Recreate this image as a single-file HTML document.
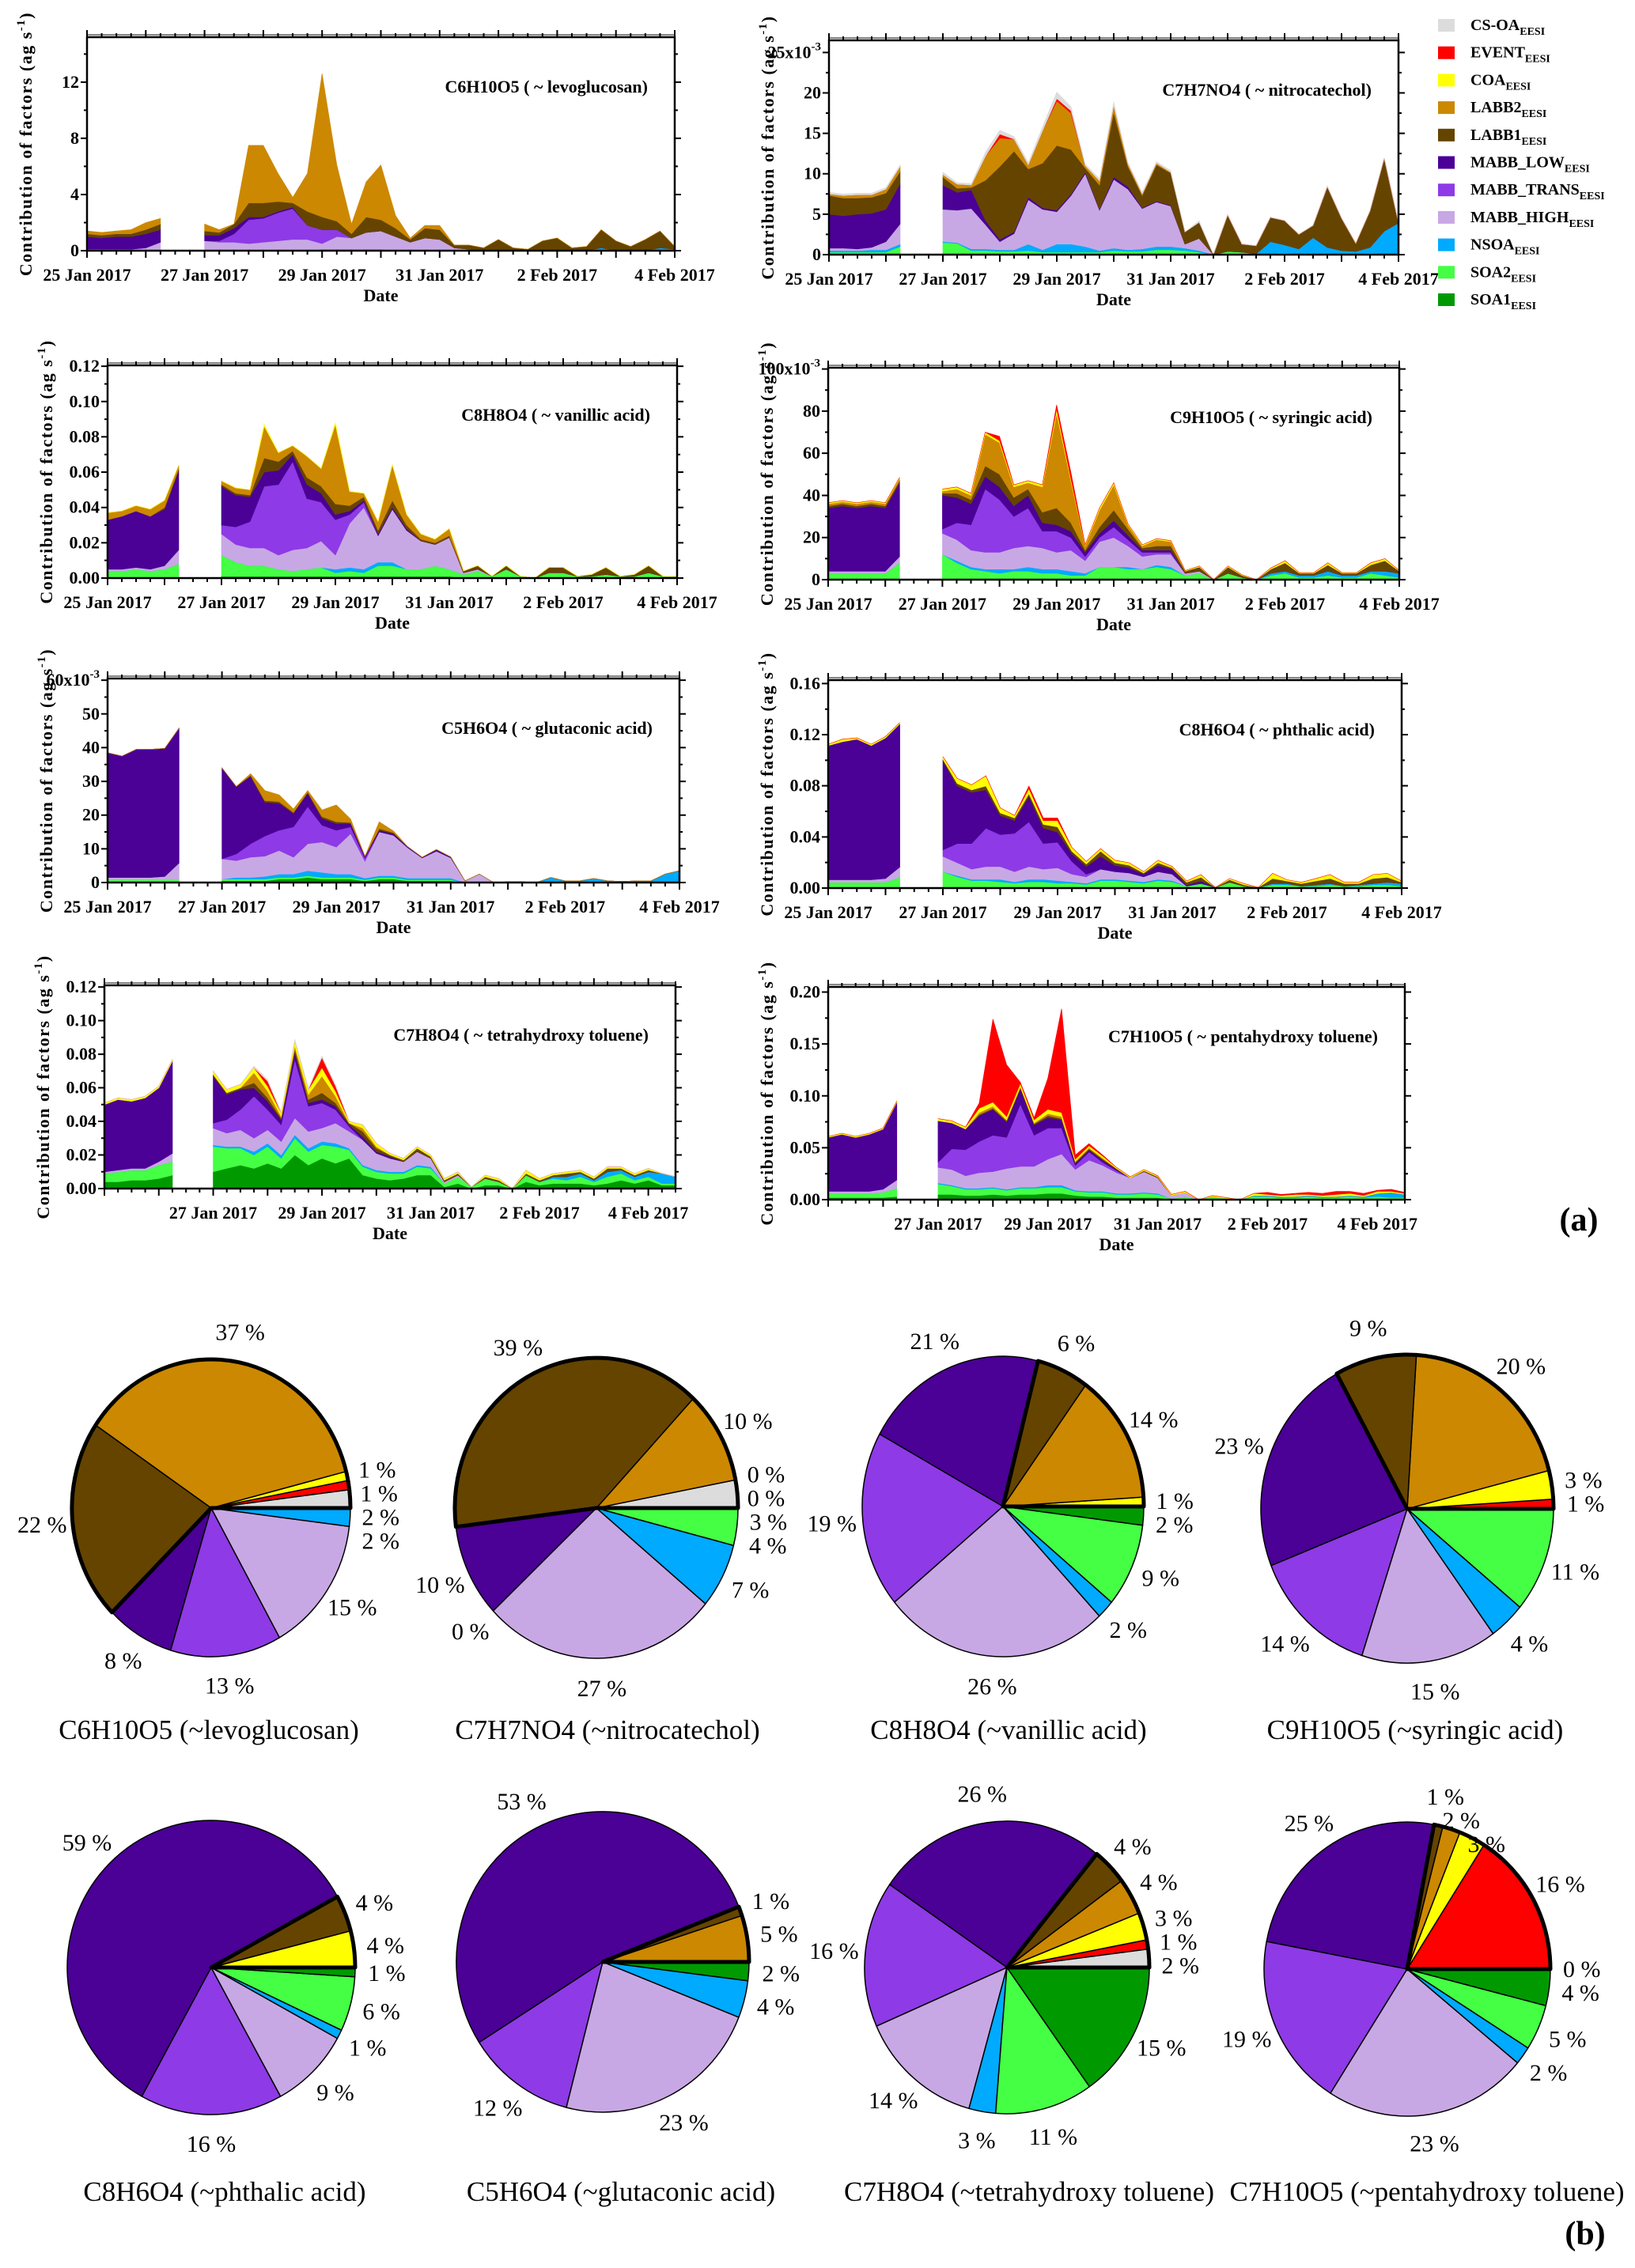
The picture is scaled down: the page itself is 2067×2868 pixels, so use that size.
<!DOCTYPE html>
<html><head><meta charset="utf-8"><title>EESI factor contributions</title>
<style>
html,body{margin:0;padding:0;background:#fff;}
svg{display:block;font-family:"Liberation Serif","Times New Roman",serif;}
text,tspan{font-family:"Liberation Serif","Times New Roman",serif;}
.tk{font-weight:bold;font-size:22px;}
</style></head>
<body>
<svg id="fig" width="2067" height="2868" viewBox="0 0 2067 2868">
<rect x="0" y="0" width="2067" height="2868" fill="#fff"/>
<text x="1996" y="1556" font-size="42" font-weight="bold" text-anchor="middle">(a)</text>
<text x="2004" y="2838" font-size="42" font-weight="bold" text-anchor="middle">(b)</text>
</svg>
<script>
const A_NSOA=[0,0,0,0,0,0,null,null,0,0,0,0,0,0,0,0,0.1,0.1,0.1,0.1,0.1,0,0,0,0,0,0,0,0,0,0,0,0,0,0,0.2,0,0,0,0.2,0.1];
const A_HIGH=[0.1,0.1,0.1,0.1,0.2,0.6,null,null,0.7,0.6,0.6,0.5,0.6,0.7,0.8,0.8,0.4,0.9,0.8,1.2,1.3,1.0,0.6,0.9,0.8,0.2,0.1,0,0,0,0,0,0,0,0,0,0,0,0,0,0];
const A_TRANS=[0,0,0,0,0,0,null,null,0,0.1,0.6,1.7,1.7,2.0,2.2,1.0,1.0,0.5,0,0,0,0,0,0,0,0,0,0,0,0,0,0,0,0,0,0,0,0,0,0,0];
const A_LOW=[0.9,0.8,0.9,0.9,1.0,0.9,null,null,0.4,0.4,0.4,0.2,0.1,0.1,0.1,0,0,0,0,0,0,0,0,0,0,0,0,0,0,0,0,0,0,0,0,0,0,0,0,0,0];
const A_LABB1=[0.2,0.2,0.2,0.2,0.3,0.4,null,null,0.3,0.2,0.3,1.0,1.0,0.7,0.3,1.0,0.9,0.6,0.3,1.1,0.8,0.6,0.2,0.7,0.7,0.2,0.3,0.2,0.8,0.2,0.1,0.7,0.9,0.2,0.3,1.3,0.7,0.3,0.8,1.2,0.2];
const A_LABB2=[0.2,0.2,0.2,0.3,0.5,0.4,null,null,0.5,0.2,0,4.1,4.1,2.0,0.4,2.7,10.2,4.0,0.7,2.5,3.9,0.9,0.1,0.2,0.3,0,0,0,0,0,0,0,0,0,0,0,0,0,0,0,0];

const B_SOA2=[0.3,0.3,0.3,0.3,0.3,1.0,null,null,1.5,1.4,0.5,0.5,0.4,0.4,0.5,0.3,0.3,0.3,0.3,0.3,0.5,0.4,0.4,0.6,0.6,0.5,0.3,0,0.4,0.3,0.1,0.1,0.2,0.1,0.1,0.1,0.1,0.1,0.2,0.1,0.1];
const B_NSOA=[0.2,0.2,0.2,0.3,0.3,0.3,null,null,0.1,0.1,0.2,0.2,0.2,0.2,0.8,0.3,1.0,1.0,0.7,0.2,0.3,0.2,0.3,0.4,0.4,0.3,0.2,0,0,0,0,1.5,1.0,0.6,2.0,0.8,0.4,0.3,0.7,2.8,3.8];
const B_HIGH=[0.3,0.3,0.2,0.3,1.0,2.5,null,null,4.0,4.0,5.0,3.0,1.0,2.0,5.5,5.0,4.0,6.0,9.0,5.0,8.5,7.5,5.0,5.5,5.0,0.5,1.5,0,0,0,0,0,0,0,0,0,0,0,0,0,0];
const B_LOW=[4.2,4.0,4.3,4.2,4.0,5.0,null,null,3.0,2.2,2.3,0.5,0.3,0.2,0.3,0.2,0.2,0.2,0.2,0.1,0.3,0.3,0.1,0.1,0.1,0,0,0,0,0,0,0,0,0,0,0,0,0,0,0,0];
const B_LABB1=[2.3,2.2,2.0,2.0,2.0,1.5,null,null,1.0,0.5,0.3,5.0,9.0,10.0,3.5,5.5,8.0,5.5,0.5,3.0,8.0,2.5,1.5,4.5,4.0,1.5,2.0,0,4.5,1.0,1.0,3.0,3.0,1.8,1.5,7.5,4.0,1.0,4.5,9.0,0];
const B_LABB2=[0.2,0.3,0.4,0.3,0.5,0.6,null,null,0.3,0.5,0.3,3.0,3.5,1.5,0.5,4.0,5.5,4.5,0.3,0.5,0.8,0.3,0.2,0.2,0.1,0,0,0,0,0,0,0,0,0,0,0,0,0,0,0,0];
const B_EV=[0,0,0,0,0,0,null,null,0,0,0,0,0.5,0,0,0,0.3,0.3,0,0,0,0,0,0,0,0,0,0,0,0,0,0,0,0,0,0,0,0,0,0,0];
const B_CS=[0.2,0.2,0.2,0.2,0.2,0.2,null,null,0.3,0.2,0.2,0.5,0.5,0.3,0.3,0.5,0.8,0.5,0.2,0.3,0.5,0.2,0.2,0.2,0.2,0,0.2,0,0,0,0,0,0,0,0,0,0,0,0,0,0];

const C_SOA1=[0,0,0,0,0,0,null,null,0.001,0.001,0.001,0.001,0.001,0.001,0.001,0.001,0.001,0.001,0.001,0.001,0.001,0.001,0.001,0.001,0.001,0,0,0,0,0,0,0,0,0,0,0,0,0,0,0,0];
const C_SOA2=[0.004,0.004,0.005,0.004,0.005,0.008,null,null,0.012,0.008,0.006,0.006,0.004,0.003,0.004,0.005,0.002,0.003,0.002,0.006,0.006,0.004,0.004,0.006,0.004,0.002,0.004,0.001,0.005,0.001,0,0.003,0.003,0.001,0.001,0.002,0.001,0.001,0.003,0.001,0.001];
const C_NSOA=[0,0,0,0,0,0,null,null,0,0,0,0,0,0,0,0,0.002,0.002,0.002,0.002,0.002,0,0,0,0,0,0,0,0,0,0,0,0,0,0,0,0,0,0,0,0];
const C_HIGH=[0.001,0.001,0.001,0.001,0.002,0.008,null,null,0.012,0.010,0.010,0.010,0.008,0.012,0.012,0.015,0.008,0.025,0.035,0.015,0.030,0.022,0.016,0.012,0.018,0.001,0.001,0,0,0,0,0,0,0,0,0,0,0,0,0,0];
const C_TRANS=[0,0,0,0,0,0,null,null,0.005,0.010,0.015,0.035,0.040,0.050,0.028,0.022,0.020,0.005,0.003,0,0,0,0,0,0,0,0,0,0,0,0,0,0,0,0,0,0,0,0,0,0];
const C_LOW=[0.028,0.030,0.032,0.030,0.032,0.045,null,null,0.022,0.018,0.014,0.008,0.008,0.004,0.008,0.005,0.003,0.002,0.001,0.001,0.001,0.001,0,0,0,0,0,0,0,0,0,0,0,0,0,0,0,0,0,0,0];
const C_LABB1=[0,0,0,0,0.001,0.001,null,null,0.001,0.001,0.001,0.008,0.005,0.002,0.004,0.004,0.006,0.003,0.002,0.002,0.004,0.002,0.001,0.001,0.001,0.001,0.002,0,0.002,0,0,0.003,0.003,0,0.001,0.004,0,0.001,0.004,0,0];
const C_LABB2=[0.004,0.003,0.003,0.004,0.004,0.002,null,null,0.002,0.003,0.003,0.018,0.005,0.003,0.012,0.010,0.045,0.008,0.002,0.005,0.020,0.006,0.003,0.002,0.004,0,0,0,0,0,0,0,0,0,0,0,0,0,0,0,0];
const C_COA=[0,0,0,0,0,0,null,null,0,0,0,0.001,0,0,0,0,0.001,0,0,0,0,0,0,0,0,0,0,0,0,0,0,0,0,0,0,0,0,0,0,0,0];

const D_SOA2=[3,3,3,3,3,8,null,null,12,8,5,4,3,4,4,3,3,2,2,6,6,5,5,6,5,2,3,0,3,1,0,2,3,1,1,2,1,1,3,2,1];
const D_NSOA=[0,0,0,0,0,0,null,null,0,1,1,1,2,1,2,2,2,2,1,0,0,1,0,1,1,0,0,0,0,0,0,1,1,1,1,2,1,1,1,2,2];
const D_HIGH=[1,1,1,1,1,3,null,null,10,10,8,8,8,10,10,10,8,10,6,12,14,10,6,5,6,1,1,0,0,0,0,0,0,0,0,0,0,0,0,0,0];
const D_TRANS=[0,0,0,0,0,0,null,null,2,8,12,30,25,15,18,8,10,6,2,2,5,3,2,1,1,0,0,0,0,0,0,0,0,0,0,0,0,0,0,0,0];
const D_LOW=[30,31,30,31,30,35,null,null,16,12,10,6,6,5,6,4,3,3,2,2,3,2,1,1,1,0,0,0,0,0,0,0,0,0,0,0,0,0,0,0,0];
const D_LABB1=[1,1,1,1,1,1,null,null,1,2,2,5,6,4,3,5,8,4,1,3,5,3,1,2,2,1,2,0,3,1,0,2,4,1,1,3,1,1,3,5,1];
const D_LABB2=[1,1,1,1,1,1,null,null,1,2,2,15,15,5,3,12,45,20,2,8,12,2,1,3,2,0,0,0,0,0,0,0,0,0,0,0,0,0,0,0,0];
const D_COA=[0.5,0.5,0.5,0.5,0.5,0.5,null,null,1,1,1,1,1,1,1,1,2,1,0.5,1,1,0.5,0.5,0.5,0.5,0.3,0.5,0,0.5,0.3,0,0.5,1,0.3,0.3,1,0.3,0.3,1,1,0.3];
const D_EV=[0,0,0,0,0,0,null,null,0,0,0,0,2,0,0,0,2,3,0,0,0,0,0,0,0,0,0,0,0,0,0,0,0,0,0,0,0,0,0,0,0];

const E_SOA1=[0.3,0.3,0.3,0.3,0.3,0.3,null,null,0.5,0.5,0.5,0.5,1,1,1.5,1,1,1,0.5,1,1,0.5,0.5,0.5,0.5,0,0,0,0,0,0,0,0,0,0,0,0,0,0,0,0];
const E_SOA2=[0.5,0.5,0.5,0.5,0.5,0.5,null,null,0.5,0.5,0.5,0.5,0.5,0.5,0.5,0.5,0.5,0.5,0.3,0.5,0.5,0.3,0.3,0.3,0.3,0,0,0,0,0,0,0,0,0,0,0,0,0,0,0,0];
const E_NSOA=[0,0,0,0,0,0,null,null,0,0.5,0.5,0.8,1,1,1.5,1.5,1,1,0.5,0.5,0.5,0.5,0.5,0.5,0.5,0,0,0,0.2,0.2,0,1.5,0.5,0.5,1.2,0.5,0.3,0.5,0.5,2.5,3.5];
const E_HIGH=[0.7,0.7,0.7,0.7,1,5,null,null,6,5,6,6,7,5,8,9,8,12,5,13,12,9,6,8,6,0.5,2.5,0,0,0,0,0,0,0,0,0,0,0,0,0,0];
const E_TRANS=[0,0,0,0,0,0,null,null,0,2,4,6,6,9,11,5,5,2,1,0,0,0,0,0,0,0,0,0,0,0,0,0,0,0,0,0,0,0,0,0,0];
const E_LOW=[37,36,38,38,38,40,null,null,27,20,20,10,8,4,4,2,2,1,0.5,0.5,0.5,0.3,0.2,0.5,0.3,0,0,0,0,0,0,0,0,0,0,0,0,0,0,0,0];
const E_LABB1=[0,0,0,0,0,0,null,null,0,0,0.3,0.5,0.5,0.3,0.3,0.5,0.5,0.3,0,0.5,0.3,0,0,0,0,0,0,0,0,0,0,0,0,0,0,0,0,0,0,0,0];
const E_LABB2=[0,0,0,0,0,0,null,null,0,0,0.5,3,2,1,0.5,2,5,1,0,2,0.5,0,0,0,0,0,0,0,0,0,0,0,0,0,0,0,0,0,0,0,0];

const F_SOA1=[0.0005,0.0005,0.0005,0.0005,0.0005,0.0005,null,null,0.0008,0.0008,0.0008,0.0008,0.0008,0.0008,0.0008,0.0008,0.0008,0.0008,0.0008,0.0008,0.0008,0.0008,0.0008,0.0008,0.0008,0.0005,0.0005,0.0005,0.0005,0.0005,0.0005,0.0005,0.0005,0.0005,0.0005,0.0005,0.0005,0.0005,0.0005,0.0005,0.0005];
const F_SOA2=[0.004,0.004,0.004,0.004,0.004,0.008,null,null,0.012,0.008,0.005,0.005,0.004,0.003,0.004,0.004,0.003,0.003,0.002,0.005,0.005,0.004,0.003,0.005,0.004,0.001,0.003,0,0.004,0.001,0,0.002,0.002,0.001,0.001,0.002,0.001,0.001,0.002,0.002,0.001];
const F_NSOA=[0,0,0,0,0,0,null,null,0,0.001,0.001,0.001,0.002,0.001,0.002,0.002,0.002,0.001,0.001,0.001,0.001,0.001,0.001,0.001,0.001,0,0,0,0,0,0,0.001,0.001,0,0.001,0.001,0,0.001,0.001,0.002,0.002];
const F_HIGH=[0.002,0.002,0.002,0.002,0.003,0.008,null,null,0.012,0.010,0.008,0.010,0.010,0.008,0.010,0.008,0.010,0.006,0.005,0.008,0.006,0.006,0.004,0.006,0.005,0,0,0,0,0,0,0,0,0,0,0,0,0,0,0,0];
const F_TRANS=[0,0,0,0,0,0,null,null,0.005,0.015,0.020,0.030,0.025,0.030,0.035,0.020,0.020,0.010,0.002,0,0,0,0,0,0,0,0,0,0,0,0,0,0,0,0,0,0,0,0,0,0];
const F_LOW=[0.105,0.108,0.110,0.105,0.110,0.112,null,null,0.070,0.045,0.040,0.030,0.015,0.010,0.020,0.012,0.008,0.006,0.006,0.010,0.005,0.004,0.002,0.005,0.004,0.001,0.002,0,0,0,0,0,0,0,0,0,0,0,0,0,0];
const F_LABB1=[0,0,0,0,0,0,null,null,0.001,0.002,0.002,0.003,0.002,0.002,0.002,0.003,0.004,0.002,0.002,0.004,0.002,0.002,0.001,0.002,0.001,0.002,0.003,0,0.002,0.001,0,0.004,0.002,0.002,0.003,0.004,0.002,0.001,0.004,0.004,0.001];
const F_COA=[0.001,0.002,0.001,0.001,0.001,0.001,null,null,0.002,0.004,0.004,0.008,0.004,0.002,0.004,0.003,0.005,0.003,0.002,0.002,0.002,0.002,0.001,0.002,0.001,0.001,0.002,0,0.001,0.001,0,0.004,0.001,0.001,0.002,0.003,0.001,0.001,0.003,0.003,0.001];
const F_EV=[0,0,0,0,0,0,null,null,0,0,0,0,0,0,0.002,0.002,0.002,0,0,0,0,0,0,0,0,0,0,0,0,0,0,0,0,0,0,0,0,0,0,0,0];

const G_SOA1=[0.004,0.004,0.005,0.005,0.006,0.008,null,null,0.010,0.012,0.014,0.012,0.015,0.012,0.020,0.014,0.018,0.015,0.018,0.008,0.006,0.005,0.006,0.008,0.008,0.001,0.003,0,0.002,0.002,0,0.004,0.002,0.003,0.003,0.003,0.002,0.003,0.005,0.003,0.005,0.002,0.002];
const G_SOA2=[0.005,0.006,0.006,0.006,0.008,0.008,null,null,0.015,0.012,0.010,0.008,0.010,0.006,0.010,0.008,0.008,0.010,0.005,0.005,0.004,0.004,0.003,0.005,0.004,0.002,0.004,0.001,0.004,0.002,0,0.004,0.002,0.003,0.002,0.004,0.002,0.004,0.004,0.002,0.002,0.001,0.001];
const G_NSOA=[0,0,0,0,0,0,null,null,0.001,0.001,0.001,0.002,0.002,0.002,0.002,0.002,0.002,0.002,0.001,0.001,0.001,0.001,0.001,0.001,0.001,0,0,0,0,0,0,0,0,0.001,0.002,0.002,0.001,0.003,0.002,0.002,0.003,0.006,0.004];
const G_HIGH=[0.001,0.001,0.001,0.001,0.002,0.005,null,null,0.010,0.008,0.010,0.008,0.008,0.008,0.010,0.010,0.008,0.012,0.010,0.015,0.010,0.008,0.006,0.008,0.005,0.001,0.001,0,0,0,0,0,0,0,0,0,0,0,0,0,0,0,0];
const G_TRANS=[0,0,0,0,0,0,null,null,0.003,0.008,0.012,0.025,0.012,0.010,0.035,0.015,0.015,0.008,0.003,0,0,0,0,0,0,0,0,0,0,0,0,0,0,0,0,0,0,0,0,0,0,0,0];
const G_LOW=[0.040,0.042,0.040,0.042,0.044,0.055,null,null,0.028,0.015,0.012,0.005,0.005,0.003,0.004,0.002,0.002,0.002,0.001,0.002,0.001,0.001,0,0,0,0,0,0,0,0,0,0,0,0,0,0,0,0,0,0,0,0,0];
const G_LABB1=[0,0,0,0,0,0,null,null,0.001,0.001,0.001,0.003,0.002,0.001,0.002,0.002,0.004,0.002,0.001,0.003,0.002,0.001,0.001,0.002,0.001,0.001,0.001,0,0.001,0.001,0,0.001,0.001,0.001,0.002,0.001,0.001,0.002,0.001,0.001,0.001,0,0];
const G_LABB2=[0,0,0,0,0,0,null,null,0,0,0,0.006,0.004,0.001,0.002,0.003,0.010,0.004,0,0.002,0.001,0,0,0,0,0,0,0,0,0,0,0,0,0,0,0,0,0,0,0,0,0,0];
const G_COA=[0.001,0.001,0.001,0.001,0.001,0.001,null,null,0.002,0.002,0.002,0.003,0.003,0.002,0.003,0.003,0.005,0.003,0.001,0.002,0.002,0.001,0.001,0.001,0.001,0.001,0.001,0,0.001,0.001,0,0.002,0.001,0.001,0.001,0.001,0.001,0.001,0.001,0.001,0.001,0,0];
const G_EV=[0,0,0,0,0,0,null,null,0,0,0,0,0.003,0,0,0,0.006,0.003,0,0,0,0,0,0,0,0,0,0,0,0,0,0,0,0,0,0,0,0,0,0,0,0,0];
const G_CS=[0,0,0,0,0,0,null,null,0,0,0,0.001,0.001,0.001,0.001,0.001,0.001,0.001,0,0,0,0,0,0,0,0,0,0,0,0,0,0,0,0,0,0,0,0,0,0,0,0,0];

const H_SOA1=[0.002,0.002,0.002,0.002,0.002,0.003,null,null,0.005,0.005,0.004,0.004,0.005,0.004,0.005,0.005,0.006,0.006,0.004,0.003,0.003,0.002,0.002,0.002,0.002,0,0.001,0,0.001,0,0,0.001,0.001,0.001,0.001,0.001,0.001,0.001,0.001,0.001,0.001,0.001,0.001];
const H_SOA2=[0.004,0.004,0.004,0.004,0.005,0.008,null,null,0.010,0.008,0.006,0.006,0.006,0.005,0.006,0.006,0.006,0.006,0.004,0.004,0.004,0.003,0.003,0.004,0.003,0.001,0.002,0,0.002,0.001,0,0.002,0.002,0.001,0.001,0.002,0.001,0.001,0.002,0.001,0.002,0.001,0.001];
const H_NSOA=[0,0,0,0,0,0,null,null,0.001,0.001,0.001,0.001,0.001,0.001,0.001,0.001,0.002,0.002,0.001,0.001,0.001,0.001,0.001,0.001,0.001,0,0,0,0,0,0,0.001,0.001,0.001,0.001,0.001,0.001,0.001,0.001,0.001,0.003,0.005,0.003];
const H_HIGH=[0.002,0.002,0.002,0.002,0.003,0.008,null,null,0.015,0.015,0.012,0.015,0.015,0.020,0.020,0.020,0.025,0.030,0.020,0.030,0.025,0.020,0.015,0.020,0.015,0.003,0.004,0,0,0,0,0,0,0,0,0,0,0,0,0,0,0,0];
const H_TRANS=[0,0,0,0,0,0,null,null,0.005,0.020,0.025,0.030,0.035,0.030,0.060,0.030,0.030,0.025,0.004,0.008,0.003,0.002,0,0,0,0,0,0,0,0,0,0,0,0,0,0,0,0,0,0,0,0,0];
const H_LOW=[0.052,0.055,0.052,0.055,0.058,0.075,null,null,0.040,0.025,0.020,0.025,0.025,0.015,0.015,0.010,0.010,0.008,0.002,0.002,0.002,0.001,0,0,0,0,0,0,0,0,0,0,0,0,0,0,0,0,0,0,0,0,0];
const H_LABB1=[0,0,0,0,0,0,null,null,0,0,0,0.001,0.001,0.001,0.001,0.001,0.002,0.001,0.001,0.001,0.001,0.001,0,0.001,0.001,0,0,0,0,0,0,0,0,0,0,0,0,0,0,0,0,0,0];
const H_LABB2=[0,0,0,0,0,0,null,null,0,0,0,0.002,0.002,0.001,0.001,0.001,0.002,0.002,0.001,0.001,0.001,0,0,0,0,0,0,0,0,0,0,0,0,0,0,0,0,0,0,0,0,0,0];
const H_COA=[0.001,0.001,0.001,0.001,0.001,0.001,null,null,0.002,0.002,0.002,0.004,0.004,0.003,0.003,0.003,0.004,0.004,0.002,0.002,0.002,0.001,0.001,0.001,0.001,0.001,0.001,0,0.001,0.001,0,0.002,0.001,0.001,0.002,0.001,0.001,0.002,0.002,0.001,0.002,0.001,0.001];
const H_EV=[0,0,0,0,0,0,null,null,0,0,0,0.005,0.080,0.050,0.001,0.002,0.030,0.100,0.004,0.002,0.001,0,0,0,0,0,0,0,0,0,0,0,0,0.002,0.001,0.001,0.002,0.002,0.003,0.002,0.002,0.001,0.002,0.001,0].slice(0,0).concat([0,0,0,0,0,0,null,null,0,0,0,0.005,0.080,0.050,0.001,0.002,0.030,0.100,0.004,0.002,0.001,0,0,0,0,0,0,0,0,0,0,0,0.002,0.001,0.001,0.002,0.002,0.003,0.002,0.002,0.001,0.002,0.001,0]);

const tickA=[0,4,8,12], tickB=[0,5,10,15,20,25], tickC=[0,0.02,0.04,0.06,0.08,0.10,0.12], tickD=[0,20,40,60,80,100];
const tickE=[0,10,20,30,40,50,60], tickF=[0,0.04,0.08,0.12,0.16], tickG=[0,0.02,0.04,0.06,0.08,0.10,0.12], tickH=[0,0.05,0.10,0.15,0.20];
const labA=['0','4','8','12'], labB=['0','5','10','15','20','25x10^-3'], labC=['0.00','0.02','0.04','0.06','0.08','0.10','0.12'], labD=['0','20','40','60','80','100x10^-3'];
const labE=['0','10','20','30','40','50','60x10^-3'], labF=['0.00','0.04','0.08','0.12','0.16'], labG=labC, labH=['0.00','0.05','0.10','0.15','0.20'];
const dateLabels=['25 Jan 2017','27 Jan 2017','29 Jan 2017','31 Jan 2017','2 Feb 2017','4 Feb 2017'];
const dateDays=[0,2,4,6,8,10];

const pie1=[2,1,1,37,22,8,13,15,2,null,null];
const pie2=[3,0,0,10,39,10,0,27,7,4,null];
const pie3=[null,null,1,14,6,21,19,26,2,9,2];
const pie4=[null,1,3,20,9,23,14,15,4,11,null];
const pie5=[null,null,4,null,4,59,16,9,1,6,1];
const pie6=[null,null,null,5,1,53,12,23,4,null,2];
const pie7=[2,1,3,4,4,26,16,14,3,11,15];
const pie8=[0,16,3,2,1,25,19,23,2,5,4];
const pieTitles=['C6H10O5 (~levoglucosan)','C7H7NO4 (~nitrocatechol)','C8H8O4 (~vanillic acid)','C9H10O5 (~syringic acid)','C8H6O4 (~phthalic acid)','C5H6O4 (~glutaconic acid)','C7H8O4 (~tetrahydroxy toluene)','C7H10O5 (~pentahydroxy toluene)'];

const COLORS={CS:'#dcdcdc',EV:'#ff0000',COA:'#ffff00',LABB2:'#cc8800',LABB1:'#654400',LOW:'#4b0096',TRANS:'#8e3ae6',HIGH:'#c8a8e4',NSOA:'#00aaff',SOA2:'#44ff44',SOA1:'#009a00'};
const STACK=['SOA1','SOA2','NSOA','HIGH','TRANS','LOW','LABB1','LABB2','COA','EV','CS'];
const PIEORDER=['CS','EV','COA','LABB2','LABB1','LOW','TRANS','HIGH','NSOA','SOA2','SOA1'];
const LEGEND=[['CS','CS-OA'],['EV','EVENT'],['COA','COA'],['LABB2','LABB2'],['LABB1','LABB1'],['LOW','MABB_LOW'],['TRANS','MABB_TRANS'],['HIGH','MABB_HIGH'],['NSOA','NSOA'],['SOA2','SOA2'],['SOA1','SOA1']];

const svg=document.getElementById('fig');
const NS=svg.namespaceURI;
const FF='"Liberation Serif","Times New Roman",serif';
function el(tag,attrs,parent){const e=document.createElementNS(NS,tag);for(const k in attrs)e.setAttribute(k,attrs[k]);if(tag==='text')e.setAttribute('font-family',FF);(parent||svg).appendChild(e);return e;}

const charts=[
 {id:'levoglucosan',title:'C6H10O5 ( ~ levoglucosan)',L:110,R:853,T:47,B:317,ymax:15.2,dmax:10,ticks:tickA,labs:labA,first:true,
  data:{NSOA:A_NSOA,HIGH:A_HIGH,TRANS:A_TRANS,LOW:A_LOW,LABB1:A_LABB1,LABB2:A_LABB2}},
 {id:'nitrocatechol',title:'C7H7NO4 ( ~ nitrocatechol)',L:1048,R:1768,T:51,B:322,ymax:26.5,dmax:10,ticks:tickB,labs:labB,first:true,
  data:{SOA2:B_SOA2,NSOA:B_NSOA,HIGH:B_HIGH,LOW:B_LOW,LABB1:B_LABB1,LABB2:B_LABB2,EV:B_EV,CS:B_CS}},
 {id:'vanillic',title:'C8H8O4 ( ~ vanillic acid)',L:136,R:856,T:462,B:731,ymax:0.1205,dmax:10,ticks:tickC,labs:labC,first:true,
  data:{SOA1:C_SOA1,SOA2:C_SOA2,NSOA:C_NSOA,HIGH:C_HIGH,TRANS:C_TRANS,LOW:C_LOW,LABB1:C_LABB1,LABB2:C_LABB2,COA:C_COA}},
 {id:'syringic',title:'C9H10O5 ( ~ syringic acid)',L:1047,R:1769,T:465,B:733,ymax:100.6,dmax:10,ticks:tickD,labs:labD,first:true,
  data:{SOA2:D_SOA2,NSOA:D_NSOA,HIGH:D_HIGH,TRANS:D_TRANS,LOW:D_LOW,LABB1:D_LABB1,LABB2:D_LABB2,COA:D_COA,EV:D_EV}},
 {id:'glutaconic',title:'C5H6O4 ( ~ glutaconic acid)',L:136,R:859,T:858,B:1116,ymax:60.5,dmax:10,ticks:tickE,labs:labE,first:true,
  data:{SOA1:E_SOA1,SOA2:E_SOA2,NSOA:E_NSOA,HIGH:E_HIGH,TRANS:E_TRANS,LOW:E_LOW,LABB1:E_LABB1,LABB2:E_LABB2}},
 {id:'phthalic',title:'C8H6O4 ( ~ phthalic  acid)',L:1047,R:1772,T:860,B:1123,ymax:0.1627,dmax:10,ticks:tickF,labs:labF,first:true,
  data:{SOA1:F_SOA1,SOA2:F_SOA2,NSOA:F_NSOA,HIGH:F_HIGH,TRANS:F_TRANS,LOW:F_LOW,LABB1:F_LABB1,COA:F_COA,EV:F_EV}},
 {id:'tetrahydroxy',title:'C7H8O4 ( ~ tetrahydroxy toluene)',L:132,R:854,T:1246,B:1503,ymax:0.121,dmax:10.5,ticks:tickG,labs:labG,first:false,
  data:{SOA1:G_SOA1,SOA2:G_SOA2,NSOA:G_NSOA,HIGH:G_HIGH,TRANS:G_TRANS,LOW:G_LOW,LABB1:G_LABB1,LABB2:G_LABB2,COA:G_COA,EV:G_EV,CS:G_CS}},
 {id:'pentahydroxy',title:'C7H10O5 ( ~ pentahydroxy toluene)',L:1047,R:1776,T:1248,B:1517,ymax:0.205,dmax:10.5,ticks:tickH,labs:labH,first:false,
  data:{SOA1:H_SOA1,SOA2:H_SOA2,NSOA:H_NSOA,HIGH:H_HIGH,TRANS:H_TRANS,LOW:H_LOW,LABB1:H_LABB1,LABB2:H_LABB2,COA:H_COA,EV:H_EV}}
];

function drawChart(c){
  const g=el('g',{});
  
  
  const xs=d=>c.L+d/c.dmax*(c.R-c.L);
  const ys=v=>c.B-Math.min(v,c.ymax)/c.ymax*(c.B-c.T);
  const ref=c.data[Object.keys(c.data)[0]];
  const n=ref.length;
  const days=ref.map((_,i)=>i*0.25);
  const runs=[];let cur=null;
  for(let i=0;i<n;i++){ if(ref[i]!==null){ if(!cur){cur=[];runs.push(cur);} cur.push(i);} else cur=null; }
  runs.forEach(run=>{
    const cum=run.map(()=>0);
    STACK.forEach(key=>{
      const arr=c.data[key]; if(!arr) return;
      const top=run.map((i,k)=>cum[k]+(arr[i]||0));
      let d='M'+run.map((i,k)=>xs(days[i]).toFixed(1)+','+ys(top[k]).toFixed(1)).join(' L');
      for(let k=run.length-1;k>=0;k--) d+=' L'+xs(days[run[k]]).toFixed(1)+','+ys(cum[k]).toFixed(1);
      d+=' Z';
      const p=el('path',{d:d,fill:COLORS[key],stroke:COLORS[key],'stroke-width':0.6},g);
      
      
      run.forEach((i,k)=>cum[k]=top[k]);
    });
  });
  const fr=el('rect',{x:c.L,y:c.T,width:c.R-c.L,height:c.B-c.T,fill:'none',stroke:'#000','stroke-width':2.5},g);
  
  
  const tl=el('line',{x1:c.L,y1:c.T-3,x2:c.R,y2:c.T-3,stroke:'#888','stroke-width':2},g);
  
  
  let tp='';
  for(let q=0;q<=c.dmax*4+0.01;q++){
    const d=q/4, x=xs(d), len=(q%4===0)?9:5;
    tp+=`M${x},${c.B} v${len} M${x},${c.T} v${-len} `;
  }
  const step=c.ticks[1]-c.ticks[0];
  for(let v=0;v<=c.ymax+1e-9;v+=step/2){
    const y=ys(v), major=Math.abs(Math.round(v/step)*step-v)<step*0.01, len=major?8:4;
    tp+=`M${c.L},${y} h${-len} M${c.R},${y} h${len} `;
  }
  const tk=el('path',{d:tp,stroke:'#000','stroke-width':2,fill:'none'},g);
  
  
  c.ticks.forEach((v,i)=>{
    const lab=c.labs[i];
    const t=el('text',{x:c.L-10,y:ys(v)+7,'text-anchor':'end',class:'tk'},g);
    
    
    if(lab.indexOf('^')>=0){
      const parts=lab.split('^');
      t.appendChild(document.createTextNode(parts[0]));
      const s=el('tspan',{dy:-10,'font-size':15},t); s.textContent=parts[1];
    } else t.textContent=lab;
  });
  dateDays.forEach((d,i)=>{
    if(!c.first && i===0) return;
    const t=el('text',{x:xs(d),y:c.B+38,'text-anchor':'middle',class:'tk'},g);
    
    
    t.textContent=dateLabels[i];
  });
  const xt=el('text',{x:(c.L+c.R)/2,y:c.B+64,'text-anchor':'middle',class:'tk'},g);
  
  
  xt.textContent='Date';
  const cy=(c.T+c.B)/2, cx=c.L-70;
  const yt=el('text',{x:cx,y:cy,'text-anchor':'middle',transform:`rotate(-90 ${cx} ${cy})`,class:'tk','letter-spacing':'1.5'},g);
  
  
  yt.appendChild(document.createTextNode('Contribution of factors (ag s'));
  const sup=el('tspan',{dy:-9,'font-size':15},yt); sup.textContent='-1';
  const cl=el('tspan',{dy:9},yt); cl.textContent=')';
  const tt=el('text',{x:c.R-34,y:c.T+70,'text-anchor':'end',class:'tk','font-size':23},g);
  
  
  tt.textContent=c.title;
}
charts.forEach(drawChart);

const lg=el('g',{});


LEGEND.forEach((it,k)=>{
  const y=32+k*34.7;
  const r=el('rect',{x:1818,y:y-8,width:21,height:16,fill:COLORS[it[0]]},lg);
  
  
  const t=el('text',{x:1859,y:y+6,'font-size':20,'font-weight':'bold'},lg);
  
  
  t.appendChild(document.createTextNode(it[1]));
  const s=el('tspan',{dy:6,'font-size':14},t); s.textContent='EESI';
});

const pies=[
 {vals:pie1,cx:267,cy:1907,rx:176,ry:188,tx:264,ty:2199},
 {vals:pie2,cx:754,cy:1907,rx:179,ry:190,tx:768,ty:2199},
 {vals:pie3,cx:1268,cy:1905,rx:178,ry:190,tx:1275,ty:2199},
 {vals:pie4,cx:1779,cy:1908,rx:185,ry:195,tx:1789,ty:2199},
 {vals:pie5,cx:267,cy:2488,rx:182,ry:186,tx:284,ty:2783},
 {vals:pie6,cx:762,cy:2481,rx:185,ry:190,tx:785,ty:2783},
 {vals:pie7,cx:1273,cy:2488,rx:180,ry:185,tx:1301,ty:2783},
 {vals:pie8,cx:1779,cy:2490,rx:181,ry:186,tx:1804,ty:2783}
];
function drawPie(p,pi){
  const g=el('g',{});
  
  
  const v=p.vals.map(x=>x||0);
  const tot=v.reduce((a,b)=>a+b,0);
  const pt=a=>[p.cx+p.rx*Math.cos(a),p.cy-p.ry*Math.sin(a)];
  let a0=0; const mids=[]; let primEnd=0;
  v.forEach((val,k)=>{
    const a1=a0+val/tot*2*Math.PI;
    if(val>0){
      const s=pt(a0),e=pt(a1),large=(a1-a0)>Math.PI?1:0;
      const path=el('path',{d:`M${p.cx},${p.cy} L${s[0].toFixed(1)},${s[1].toFixed(1)} A${p.rx},${p.ry} 0 ${large} 0 ${e[0].toFixed(1)},${e[1].toFixed(1)} Z`,fill:COLORS[PIEORDER[k]],stroke:'#000','stroke-width':1.5,'stroke-linejoin':'round'},g);
      
      
    }
    mids.push((a0+a1)/2);
    if(k===4) primEnd=a1;
    a0=a1;
  });
  if(primEnd>0){
    const s=pt(0),e=pt(primEnd),large=primEnd>Math.PI?1:0;
    const o=el('path',{d:`M${p.cx},${p.cy} L${s[0].toFixed(1)},${s[1].toFixed(1)} A${p.rx},${p.ry} 0 ${large} 0 ${e[0].toFixed(1)},${e[1].toFixed(1)} Z`,fill:'none',stroke:'#000','stroke-width':5,'stroke-linejoin':'round'},g);
    
    
  }
  const labs=[];
  p.vals.forEach((val,k)=>{
    if(val===null) return;
    const m=mids[k];
    labs.push({k:k,txt:val+' %',x:p.cx+p.rx*1.22*Math.cos(m),y:p.cy-p.ry*1.2*Math.sin(m),right:Math.cos(m)>=0});
  });
  [true,false].forEach(side=>{
    const s=labs.filter(l=>l.right===side).sort((a,b)=>a.y-b.y);
    for(let i=1;i<s.length;i++) if(s[i].y<s[i-1].y+30) s[i].y=s[i-1].y+30;
  });
  labs.forEach(l=>{
    const t=el('text',{x:l.x.toFixed(1),y:(l.y+10).toFixed(1),'text-anchor':'middle','font-size':30},g);
    
    
    t.textContent=l.txt;
  });
  const tt=el('text',{x:p.tx,y:p.ty,'text-anchor':'middle','font-size':35},g);
  
  
  tt.textContent=pieTitles[pi];
}
pies.forEach(drawPie);
</script>
</body></html>
